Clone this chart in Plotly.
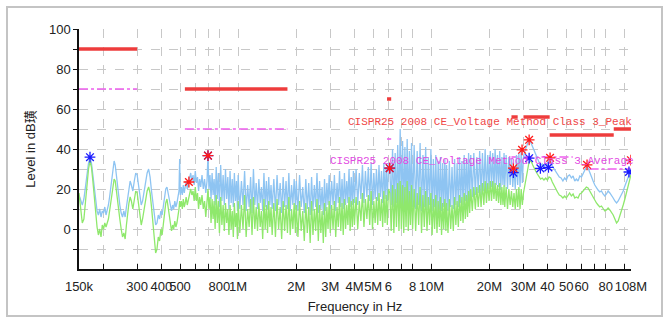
import math
import plotly.graph_objects as go

# ---------------- data ----------------
# Region A: 150 kHz - 1 MHz (frequency in MHz, level in dBuV)
freq_lf = [
    0.150, 0.153, 0.156, 0.159, 0.162, 0.165, 0.168, 0.171, 0.174, 0.177,
    0.180, 0.183, 0.186, 0.189, 0.192, 0.195, 0.198, 0.201, 0.204, 0.207,
    0.210, 0.213, 0.216, 0.219, 0.222, 0.225, 0.228, 0.231, 0.234, 0.237,
    0.240, 0.244, 0.248, 0.252, 0.256, 0.260, 0.264, 0.268, 0.272, 0.276,
    0.280, 0.285, 0.290, 0.295, 0.300, 0.305, 0.310, 0.315, 0.320, 0.326,
    0.332, 0.338, 0.344, 0.350, 0.356, 0.362, 0.368, 0.374, 0.380, 0.386,
    0.392, 0.398, 0.404, 0.410, 0.416, 0.422, 0.428, 0.434, 0.440, 0.446,
    0.452, 0.458, 0.464, 0.470, 0.476, 0.482, 0.488, 0.494, 0.498, 0.502,
    0.508, 0.514, 0.520, 0.526, 0.532, 0.538, 0.545, 0.552, 0.560, 0.568,
    0.576, 0.584, 0.592, 0.600, 0.608, 0.616, 0.624, 0.632, 0.640, 0.650,
    0.660, 0.670, 0.680, 0.690, 0.698, 0.706, 0.715, 0.724, 0.733, 0.742,
    0.751, 0.760, 0.770, 0.780, 0.790, 0.800, 0.812, 0.824, 0.836, 0.848,
    0.860, 0.872, 0.884, 0.896, 0.908, 0.920, 0.932, 0.944, 0.956, 0.968,
    0.980, 0.992,
]
peak_lf = [
    17, 14, 12, 15, 22, 28, 33, 36, 33, 27,
    20, 14, 9, 7, 10, 6, 9, 8, 11, 7,
    9, 12, 16, 21, 25, 30, 34, 32, 27, 22,
    17, 12, 8, 6, 9, 6, 11, 16, 21, 24,
    22, 19, 24, 28, 27, 22, 17, 12, 14, 19,
    25, 28, 30, 26, 19, 12, 6, 2, 3, 7,
    5, 9, 7, 12, 16, 20, 21, 18, 14, 11,
    9, 12, 10, 14, 11, 13, 16, 19, 35, 17,
    21, 17, 22, 18, 21, 24, 20, 23, 26, 28,
    24, 27, 22, 29, 23, 26, 19, 25, 21, 27,
    20, 25, 18, 24, 37, 20, 27, 15, 28, 17,
    25, 12, 31, 15, 28, 11, 32, 14, 27, 12,
    30, 15, 26, 10, 29, 13, 25, 11, 28, 14,
    24, 9,
]
avg_lf = [
    18, 10, 3, 5, 15, 24, 30, 34, 31, 24,
    15, 7, 1, -3, 0, -4, 2, 0, 3, 1,
    3, 5, 9, 13, 17, 21, 25, 24, 19, 14,
    10, 5, 0, -4, -2, -5, 2, 8, 13, 16,
    14, 10, 15, 19, 18, 13, 7, 2, 5, 10,
    16, 19, 21, 18, 11, 3, -5, -12, -10, -4,
    -6, 0, -3, 3, 8, 13, 15, 11, 6, 1,
    -1, 2, 0, 4, 1, 3, 6, 10, 14, 11,
    14, 10, 15, 11, 13, 16, 12, 15, 18, 20,
    17, 19, 14, 21, 14, 18, 10, 16, 12, 17,
    10, 14, 6, 12, 20, 10, 16, 3, 15, 5,
    14, 0, 17, 3, 14, -2, 16, 2, 12, -1,
    13, 3, 10, -3, 12, 0, 9, -4, 13, 1,
    8, -5,
]

# Region B: 1 MHz - 30 MHz (dense sweep)
freq_mf = [
    1.00, 1.02, 1.04, 1.06, 1.08, 1.10, 1.12, 1.14, 1.16, 1.18,
    1.20, 1.22, 1.24, 1.26, 1.28, 1.30, 1.32, 1.34, 1.36, 1.38,
    1.40, 1.42, 1.44, 1.46, 1.48,
    1.50, 1.53, 1.56, 1.59, 1.62, 1.65, 1.68, 1.71, 1.74, 1.77,
    1.80, 1.83, 1.86, 1.89, 1.92, 1.95, 1.98,
    2.00, 2.04, 2.08, 2.12, 2.16, 2.20, 2.24, 2.28, 2.32, 2.36,
    2.40, 2.44, 2.48, 2.52, 2.56, 2.60, 2.64, 2.68, 2.72, 2.76,
    2.80, 2.84, 2.88, 2.92, 2.96,
    3.00, 3.05, 3.10, 3.15, 3.20, 3.25, 3.30, 3.35, 3.40, 3.45,
    3.50, 3.55, 3.60, 3.65, 3.70, 3.75, 3.80, 3.85, 3.90, 3.95,
    4.00, 4.08, 4.16, 4.24, 4.32, 4.40, 4.48, 4.56, 4.64, 4.72,
    4.80, 4.88, 4.96, 5.04, 5.12, 5.20, 5.28, 5.36, 5.44, 5.52,
    5.60, 5.68, 5.76, 5.84, 5.92,
    6.0, 6.1, 6.2, 6.3, 6.4, 6.5, 6.6, 6.7, 6.8, 6.9,
    7.0, 7.1, 7.2, 7.3, 7.4, 7.5, 7.6, 7.7, 7.8, 7.9,
    8.00, 8.15, 8.30, 8.45, 8.60, 8.75, 8.90, 9.05, 9.20, 9.35,
    9.50, 9.65, 9.80, 9.95, 10.10, 10.25, 10.40, 10.55, 10.70, 10.85,
    11.00, 11.15, 11.30, 11.45, 11.60, 11.75, 11.90,
    12.0, 12.2, 12.4, 12.6, 12.8, 13.0, 13.2, 13.4, 13.6, 13.8,
    14.0, 14.2, 14.4, 14.6, 14.8, 15.0, 15.2, 15.4, 15.6, 15.8,
    16.0, 16.3, 16.6, 16.9, 17.2, 17.5, 17.8, 18.1, 18.4, 18.7,
    19.0, 19.3, 19.6, 19.9, 20.2, 20.5, 20.8, 21.1, 21.4, 21.7,
    22.0, 22.3, 22.6, 22.9, 23.2, 23.5, 23.8,
    24.0, 24.4, 24.8, 25.2, 25.6, 26.0, 26.4, 26.8, 27.2, 27.6,
    28.0, 28.4, 28.8, 29.2, 29.6,
]
peak_mf = [
    27, 10, 24, 12, 29, 9, 22, 11, 26, 8,
    30, 12, 23, 10, 25, 13, 21, 9, 28, 11,
    24, 10, 26, 12, 22,
    10, 25, 9, 27, 12, 23, 8, 26, 11, 24,
    10, 28, 9, 22, 12, 25, 10,
    24, 9, 27, 11, 21, 8, 25, 10, 23, 7,
    26, 9, 22, 11, 28, 8, 24, 10, 21, 7,
    25, 9, 23, 12, 27,
    10, 24, 12, 27, 9, 23, 13, 29, 11, 25,
    10, 28, 12, 24, 13, 30, 11, 26, 12, 29,
    13, 30, 12, 28, 15, 32, 13, 29, 16, 31,
    14, 33, 12, 28, 15, 30, 14, 32, 16, 29,
    13, 33, 15, 31, 14,
    33, 30, 12, 40, 11, 38, 13, 42, 10, 50,
    12, 44, 9, 41, 12, 45, 10, 39, 13, 43,
    11, 42, 10, 39, 12, 43, 9, 37, 11, 41,
    10, 36, 12, 40, 9, 35, 11, 37, 8, 34,
    10, 36, 9, 33, 11, 35, 10,
    32, 9, 34, 11, 31, 10, 35, 12, 33, 11,
    36, 13, 34, 12, 37, 14, 35, 13, 38, 15,
    37, 16, 38, 17, 36, 18, 39, 17, 38, 19,
    40, 18, 37, 20, 39, 21, 38, 20, 40, 22,
    37, 21, 39, 20, 36, 22, 38,
    21, 37, 20, 36, 22, 35, 21, 31, 20, 37,
    22, 38, 21, 39, 23,
]
avg_mf = [
    14, -2, 12, 0, 17, -4, 10, 1, 15, -3,
    16, 0, 11, -1, 13, 1, 9, -5, 15, 0,
    12, -2, 14, 1, 11,
    -3, 13, -4, 15, 0, 11, -5, 14, -1, 12,
    -2, 16, -3, 10, 0, 13, -2,
    12, -4, 14, -1, 9, -6, 13, -2, 11, -7,
    14, -3, 10, -1, 15, -6, 12, -2, 9, -7,
    13, -4, 11, 0, 14,
    -2, 12, 0, 14, -4, 11, 1, 16, -1, 13,
    -3, 15, 0, 12, 2, 16, -1, 14, 1, 15,
    2, 16, 0, 14, 4, 18, 1, 15, 5, 17,
    2, 19, 0, 14, 3, 16, 2, 18, 4, 15,
    1, 19, 3, 17, 2,
    20, 18, -1, 22, -2, 20, 1, 23, -1, 24,
    0, 22, -2, 21, 1, 24, -1, 19, 2, 22,
    0, 20, -1, 18, 2, 21, -2, 17, 1, 19,
    -1, 16, 2, 18, -3, 15, 0, 17, -2, 14,
    1, 16, -3, 13, 0, 15, -1,
    13, -2, 15, 0, 12, -1, 16, 2, 14, 1,
    17, 4, 16, 3, 18, 5, 17, 6, 19, 8,
    20, 9, 21, 10, 21, 11, 22, 11, 23, 12,
    24, 13, 23, 14, 24, 14, 24, 15, 23, 14,
    22, 13, 23, 12, 21, 12, 22,
    11, 21, 10, 20, 12, 19, 11, 18, 10, 20,
    11, 21, 10, 20, 12,
]

# Region C: 30 MHz - 108 MHz
freq_hf = [
    30.0, 30.5, 31.0, 31.5, 32.0, 32.5, 33.0, 33.5, 34.0, 34.7,
    35.4, 36.1, 36.8, 37.5, 38.3, 39.1, 39.9, 40.7, 41.5, 42.3,
    43.2, 44.1, 45.0, 46.0, 47.0, 48.0, 49.0, 50.0, 51.0, 52.0,
    53.1, 54.2, 55.3, 56.4, 57.5, 58.7, 59.9, 61.1, 62.3, 63.5,
    64.8, 66.1, 67.4, 68.8, 70.2, 71.6, 73.0, 74.5, 76.0, 77.5,
    79.1, 80.7, 82.3, 84.0, 85.7, 87.4, 89.2, 91.0, 92.8, 94.7,
    96.6, 98.5, 100.5, 102.5, 104.5, 106.5, 108.0,
]
peak_hf = [
    36, 39, 41, 43, 44.5, 44, 42.5, 41, 39.5, 37,
    35, 33, 31.5, 32.5, 31, 33, 32, 35, 34, 31.5,
    30, 28.5, 27.5, 26, 25.5, 24, 25.5, 24.5, 26.5, 27,
    25.5, 26.5, 24, 25, 24, 26.5, 26, 28, 29.5, 31,
    30.5, 28, 26, 24, 22, 20.5, 19.5, 18.5, 19, 17.5,
    16.5, 17.5, 19, 18, 17, 15.5, 14, 13, 14, 15.5,
    17, 19, 21.5, 23.5, 26, 28, 30,
]
avg_hf = [
    18, 22, 26, 30, 33, 34, 33.5, 32, 30.5, 29,
    27.5, 26, 25, 25.5, 24.5, 25.5, 24.5, 26, 25.5, 23.5,
    21.5, 20, 18.5, 17, 16.5, 15.5, 16.5, 15.5, 17, 18,
    16.5, 17.5, 15.5, 16, 15.5, 17.5, 18, 19, 20, 21,
    20.5, 19, 17.5, 16, 14, 13, 12, 11, 11.5, 10,
    9, 9.5, 10.5, 9.5, 8.5, 7, 5, 3, 4, 6.5,
    9, 12, 15, 18, 21, 24, 27,
]

# Limit lines (CISPR25 class 3)
peak_lim_start = [0.15, 0.53, 5.9, 26, 30, 41, 88]
peak_lim_stop = [0.30, 1.8, 6.2, 28, 41, 88, 108]
peak_lim_level = [90, 70, 65, 56, 56, 47, 50]

avg_lim_start = [0.15, 0.53, 5.9, 26, 30, 66]
avg_lim_stop = [0.30, 1.8, 6.2, 28, 54, 108]
avg_lim_level = [70, 50, 45, 36, 36, 30]

# Final measurement markers
pk_mark_f = [0.556, 0.698, 6.09, 26.6, 29.5, 32.1, 41.2, 64.0, 108.0]
pk_mark_v = [23.5, 36.7, 30.4, 30.4, 39.6, 44.6, 35.6, 32.1, 34.4]
av_mark_f = [0.171, 0.698, 6.09, 26.6, 32.1, 36.7, 40.4, 105.5]
av_mark_v = [35.9, 36.7, 30.4, 28.2, 35.4, 30.3, 30.8, 28.5]

x_tick_vals = [0.15, 0.2, 0.3, 0.4, 0.5, 0.6, 0.7, 0.8, 1, 2, 3, 4, 5, 6, 7, 8,
               10, 20, 30, 40, 50, 60, 70, 80, 100, 108]
x_tick_text = ["150k", "", "300", "400", "500", "", "", "800", "1M", "2M", "3M",
               "4M", "5M", "6", "", "8", "10M", "20M", "30M", "40", "50", "60",
               "", "80", "", "108M"]
y_tick_vals = [-10, 0, 10, 20, 30, 40, 50, 60, 70, 80, 90, 100]
y_tick_text = ["", "0", "", "20", "", "40", "", "60", "", "80", "", "100"]

peak_label = "CISPR25 2008 CE_Voltage Method Class 3_Peak"
avg_label = "CISPR25 2008 CE_Voltage Method Class 3_Average"

# ---------------- figure ----------------
freq_all = freq_lf + freq_mf + freq_hf
peak_all = peak_lf + peak_mf + peak_hf
avg_all = avg_lf + avg_mf + avg_hf
assert len(freq_lf) == len(peak_lf) == len(avg_lf)
assert len(freq_mf) == len(peak_mf) == len(avg_mf), (len(freq_mf), len(peak_mf), len(avg_mf))
assert len(freq_hf) == len(peak_hf) == len(avg_hf)


def segments(starts, stops, levels):
    xs, ys = [], []
    for a, b, lv in zip(starts, stops, levels):
        xs += [a, b, None]
        ys += [lv, lv, None]
    return xs, ys


RED = "#ee3c3c"
MAG = "#ee5fee"

fig = go.Figure()

ax, ay = segments(avg_lim_start, avg_lim_stop, avg_lim_level)
fig.add_trace(go.Scatter(x=ax, y=ay, mode="lines",
                         line=dict(color=MAG, width=1.6, dash="dashdot")))
px_, py_ = segments(peak_lim_start, peak_lim_stop, peak_lim_level)
fig.add_trace(go.Scatter(x=px_, y=py_, mode="lines",
                         line=dict(color=RED, width=3.5)))

fig.add_trace(go.Scatter(x=freq_all, y=peak_all, mode="lines",
                         line=dict(color="#8ec4f2", width=1.3)))
fig.add_trace(go.Scatter(x=freq_all, y=avg_all, mode="lines",
                         line=dict(color="#8fe86c", width=1.3)))

fig.add_trace(go.Scatter(x=av_mark_f, y=av_mark_v, mode="markers",
                         marker=dict(symbol="asterisk-open", size=9,
                                     color="#1a1aff",
                                     line=dict(color="#1a1aff", width=1.3))))
fig.add_trace(go.Scatter(x=pk_mark_f, y=pk_mark_v, mode="markers",
                         marker=dict(symbol="asterisk-open", size=9,
                                     color="#ff1a1a",
                                     line=dict(color="#ff1a1a", width=1.3))))

L, R, T, B = 79, 37, 29, 60
W, H = 668, 329
pw, ph = W - L - R, H - T - B


def xpaper(px):
    return (px - L) / pw


def ypaper(py):
    return (H - B - py) / ph


fig.add_annotation(text=peak_label, xref="paper", x=xpaper(634), xanchor="right",
                   yref="y", y=53.7, yanchor="middle", showarrow=False,
                   font=dict(family="Liberation Mono", size=11, color="#f04646"))
fig.add_annotation(text=avg_label, xref="paper", x=xpaper(636), xanchor="right",
                   yref="y", y=33.8, yanchor="middle", showarrow=False,
                   font=dict(family="Liberation Mono", size=11, color="#e24ae2"))

fig.add_shape(type="rect", xref="paper", yref="paper",
              x0=xpaper(7), x1=xpaper(662), y0=ypaper(316), y1=ypaper(7),
              line=dict(color="#c4c4c4", width=2), layer="below")

fig.update_layout(
    width=W, height=H,
    margin=dict(l=L, r=R, t=T, b=B),
    paper_bgcolor="white", plot_bgcolor="white",
    showlegend=False,
    font=dict(family="Liberation Sans, Arial, Noto Sans CJK SC", size=13, color="#222"),
)
fig.update_xaxes(
    type="log", range=[math.log10(0.15), math.log10(108) + 0.0004],
    tickvals=x_tick_vals, ticktext=x_tick_text, tickangle=0,
    ticks="inside", ticklen=5, tickcolor="#111", tickwidth=1.3,
    showline=True, linecolor="#111", linewidth=1.5,
    showgrid=True, gridcolor="#c8c8c8", griddash="dash", gridwidth=1,
    zeroline=False, ticklabelstandoff=5,
    title=dict(text="Frequency in Hz", standoff=9, font=dict(size=13)),
)
fig.update_yaxes(
    range=[-20, 100], tickvals=y_tick_vals, ticktext=y_tick_text,
    ticks="outside", ticklen=4, tickcolor="#111", tickwidth=1.3,
    showline=True, linecolor="#111", linewidth=1.5,
    showgrid=True, gridcolor="#c8c8c8", griddash="dash", gridwidth=1,
    zeroline=False,
    title=dict(text="Level in dB璜", standoff=10, font=dict(size=13)),
)

fig.write_html("out.html")
